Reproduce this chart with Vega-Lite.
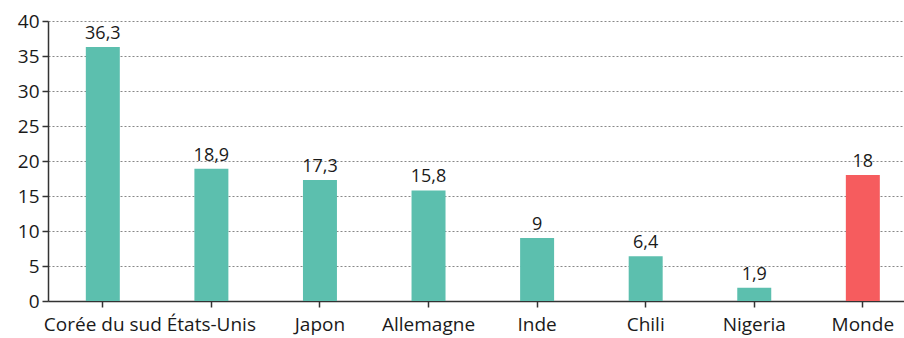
{
  "$schema": "https://vega.github.io/schema/vega-lite/v6.json",
  "width": 856,
  "height": 280,
  "autosize": {"type": "none"},
  "padding": {"left": 48, "top": 21, "right": 0, "bottom": 37},
  "background": "white",
  "data": {
    "values": [
      {"pays": "Corée du sud", "valeur": 36.3, "groupe": "pays"},
      {"pays": "États-Unis", "valeur": 18.9, "groupe": "pays"},
      {"pays": "Japon", "valeur": 17.3, "groupe": "pays"},
      {"pays": "Allemagne", "valeur": 15.8, "groupe": "pays"},
      {"pays": "Inde", "valeur": 9, "groupe": "pays"},
      {"pays": "Chili", "valeur": 6.4, "groupe": "pays"},
      {"pays": "Nigeria", "valeur": 1.9, "groupe": "pays"},
      {"pays": "Monde", "valeur": 18, "groupe": "monde"}
    ]
  },
  "encoding": {
    "x": {
      "field": "pays",
      "type": "nominal",
      "sort": null,
      "title": null,
      "scale": {"paddingInner": 0.687, "paddingOuter": 0.2855, "align": 0.61},
      "axis": {
        "labelAngle": 0,
        "labelFont": "Open Sans",
        "labelFontSize": 19,
        "labelColor": "#1a1a1a",
        "labelPadding": 8,
        "domainColor": "#333",
        "domainWidth": 1.5,
        "tickColor": "#333",
        "tickWidth": 1.5,
        "tickSize": 6,
        "grid": false
      }
    },
    "y": {
      "field": "valeur",
      "type": "quantitative",
      "title": null,
      "scale": {"domain": [0, 40]},
      "axis": {
        "values": [0, 5, 10, 15, 20, 25, 30, 35, 40],
        "labelFont": "Open Sans",
        "labelFontSize": 19,
        "labelColor": "#1a1a1a",
        "labelPadding": 3,
        "domainColor": "#333",
        "domainWidth": 1.5,
        "tickColor": "#333",
        "tickWidth": 1.5,
        "tickSize": 6,
        "gridColor": "#888",
        "gridDash": [2, 2],
        "gridWidth": 1
      }
    }
  },
  "layer": [
    {
      "mark": {"type": "bar"},
      "encoding": {
        "color": {
          "field": "groupe",
          "type": "nominal",
          "scale": {"domain": ["pays", "monde"], "range": ["#5cbfae", "#f65c5e"]},
          "legend": null
        }
      }
    },
    {
      "mark": {"type": "text", "baseline": "bottom", "dy": -4, "font": "Open Sans", "fontSize": 18, "color": "#1a1a1a"},
      "encoding": {
        "text": {"field": "valeur", "type": "quantitative", "format": "~g"}
      }
    }
  ],
  "config": {
    "view": {"stroke": null},
    "locale": {
      "number": {"decimal": ",", "thousands": " ", "grouping": [3], "currency": ["", " €"]}
    }
  }
}
